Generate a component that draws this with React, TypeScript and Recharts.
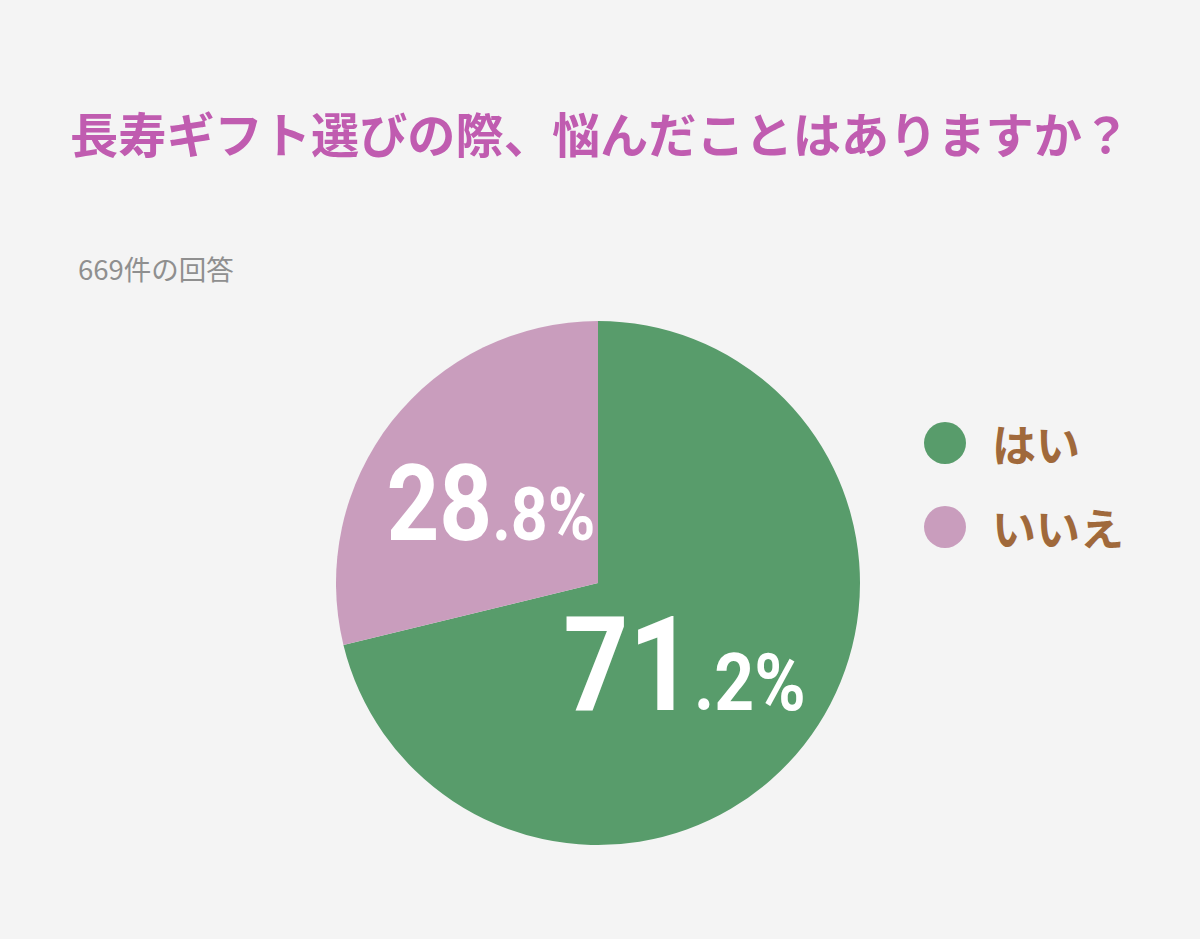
import React from "react";
import { PieChart, Pie, Cell } from "recharts";

const categories = ["はい", "いいえ"];
const values = [71.2, 28.8];
const colors = ["#589c6b", "#c99dbd"];
const titleText = "長寿ギフト選びの際、悩んだことはありますか？";
const subtitleText = "669件の回答";

const data = categories.map((name, i) => ({ name, value: values[i] }));

const RAD = Math.PI / 180;

const renderLabel = (props: any) => {
  const { cx, cy, midAngle, outerRadius, value, index } = props;
  const big = index === 0;
  const r = outerRadius * (big ? 0.42 : 0.52);
  const x = cx + r * Math.cos(-midAngle * RAD);
  const y = cy + r * Math.sin(-midAngle * RAD);
  const s = Number(value).toFixed(1);
  const [intPart, decPart] = s.split(".");
  const bigSize = big ? 131 : 106;
  const smallSize = big ? 80 : 74;
  const baseY = y + bigSize * (big ? 0.45 : 0.39);
  return (
    <text
      x={0}
      y={0}
      transform={`translate(${x},${baseY}) scale(0.87,1)`}
      textAnchor="middle"
      fill="#ffffff"
      fontFamily="Roboto, 'DejaVu Sans', sans-serif"
      fontWeight={700}
    >
      <tspan fontSize={bigSize}>{intPart}</tspan>
      <tspan fontSize={smallSize}>{"." + decPart + "%"}</tspan>
    </text>
  );
};

export default function App() {
  return (
    <div
      style={{
        position: "absolute",
        top: 0,
        left: 0,
        width: 1200,
        height: 939,
        background: "#f4f4f4",
        overflow: "hidden",
      }}
    >
      <div
        style={{
          position: "absolute",
          left: 70,
          top: 104,
          fontFamily: "'Noto Sans CJK JP', sans-serif",
          fontWeight: 700,
          fontSize: 48.2,
          lineHeight: 1.2,
          color: "#c05cb0",
          whiteSpace: "nowrap",
        }}
      >
        {titleText}
      </div>
      <div
        style={{
          position: "absolute",
          left: 78,
          top: 252,
          fontFamily: "'Noto Sans CJK JP', sans-serif",
          fontSize: 27.5,
          lineHeight: 1.2,
          color: "#8f8f8f",
          whiteSpace: "nowrap",
        }}
      >
        {subtitleText}
      </div>
      <div style={{ position: "absolute", left: 0, top: 0 }}>
        <PieChart width={1200} height={939} margin={{ top: 0, right: 0, bottom: 0, left: 0 }}>
          <Pie
            data={data}
            dataKey="value"
            nameKey="name"
            cx={598}
            cy={583}
            outerRadius={262}
            startAngle={90}
            endAngle={-270}
            stroke="none"
            label={renderLabel}
            labelLine={false}
            isAnimationActive={false}
          >
            {data.map((d, i) => (
              <Cell key={d.name} fill={colors[i]} />
            ))}
          </Pie>
        </PieChart>
      </div>
      <div style={{ position: "absolute", left: 924, top: 401 }}>
        {categories.map((name, i) => (
          <div
            key={name}
            style={{ display: "flex", alignItems: "center", height: 84 }}
          >
            <span
              style={{
                display: "inline-block",
                width: 42,
                height: 42,
                borderRadius: "50%",
                background: colors[i],
                marginRight: 26,
              }}
            />
            <span
              style={{
                fontFamily: "'Noto Sans CJK JP', sans-serif",
                fontWeight: 700,
                fontSize: 44,
                color: "#a0693b",
                lineHeight: 1,
              }}
            >
              {name}
            </span>
          </div>
        ))}
      </div>
    </div>
  );
}
